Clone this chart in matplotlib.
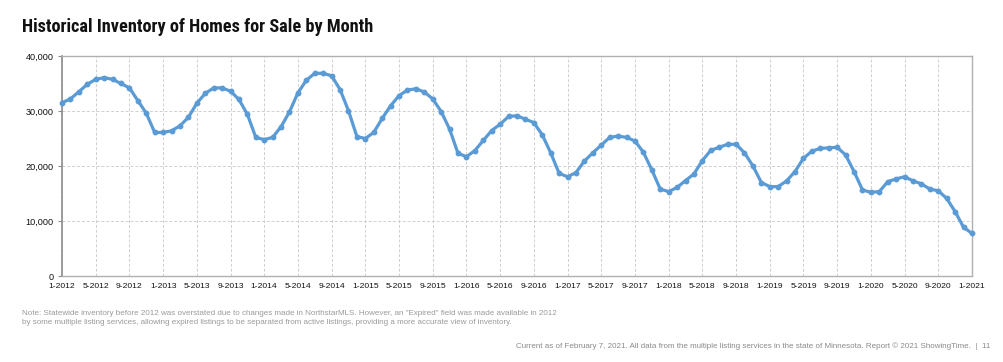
import matplotlib
matplotlib.use("Agg")
import matplotlib.pyplot as plt
from matplotlib import font_manager
import numpy as np

title = "Historical Inventory of Homes for Sale by Month"

# Monthly inventory, Jan 2012 .. Jan 2021
inventory = [
    31500, 32200, 33500, 34850, 35760, 36060, 35760, 35000, 34200, 31900, 29600, 26100,  # 2012
    26100, 26400, 27300, 28850, 31400, 33200, 34200, 34200, 33600, 32100, 29400, 25200,  # 2013
    24800, 25200, 27150, 29850, 33300, 35600, 36850, 36850, 36400, 33900, 30050, 25350,  # 2014
    25000, 26100, 28650, 30950, 32800, 33800, 34050, 33450, 32200, 29900, 26700, 22300,  # 2015
    21700, 22800, 24650, 26450, 27600, 29000, 29150, 28500, 27900, 25650, 22400, 18650,  # 2016
    18050, 18800, 20900, 22400, 23800, 25200, 25450, 25200, 24550, 22500, 19300, 15800,  # 2017
    15350, 16100, 17350, 18550, 21000, 22850, 23400, 23950, 23950, 22400, 20000, 17000,  # 2018
    16250, 16250, 17300, 19000, 21400, 22700, 23200, 23300, 23400, 22000, 19000, 15650,  # 2019
    15200, 15350, 17150, 17650, 18050, 17300, 16750, 15800, 15500, 14100, 11700, 8850,   # 2020
    7750,                                                                                 # 2021
]
month_labels = [f"{m}-{y}" for y in range(2012, 2022) for m in range(1, 13)][:len(inventory)]
tick_every = 4
y_ticks = [0, 10000, 20000, 30000, 40000]

note = ("Note: Statewide inventory before 2012 was overstated due to changes made in NorthstarMLS. "
        "However, an \"Expired\" field was made available in 2012\n"
        "by some multiple listing services, allowing expired listings to be separated from active "
        "listings, providing a more accurate view of inventory.")
footer = ("Current as of February 7, 2021. All data from the multiple listing services in the state of "
          "Minnesota. Report \u00a9 2021 ShowingTime.  |  11")

installed = {f.name for f in font_manager.fontManager.ttflist}
cands = ["Liberation Sans Narrow", "Roboto Condensed", "Archivo Narrow", "PT Sans Narrow",
         "Arimo", "Liberation Sans"]
title_family = [c for c in cands if c in installed][:1] + ["DejaVu Sans"]
body = ["Liberation Sans", "DejaVu Sans"]
plt.rcParams["font.family"] = body

fig = plt.figure(figsize=(10.04, 3.62), dpi=100)
ax = fig.add_axes([62 / 1004, 1 - 276 / 362, 910 / 1004, 220 / 362])

x = np.arange(len(inventory))
ax.plot(x, inventory, color="#5b9bd5", lw=2.3, marker="o", ms=3.2,
        markerfacecolor="#5b9bd5", markeredgecolor="#5b9bd5", zorder=3, clip_on=False)

ax.set_xlim(0, len(inventory) - 1)
ax.set_ylim(0, 40000)
ax.set_yticks(y_ticks)
ax.set_yticklabels([f"{v:,}" for v in y_ticks])
xt = x[::tick_every]
ax.set_xticks(xt)
ax.set_xticklabels([month_labels[i] for i in xt])

ax.grid(True, color="#cfcfcf", ls=(0, (3, 2)), lw=0.7)
ax.set_axisbelow(True)
for s in ["top", "right", "bottom"]:
    ax.spines[s].set_color("#b0b0b0")
    ax.spines[s].set_linewidth(1.0)
ax.spines["left"].set_color("#8c8c8c")
ax.spines["left"].set_linewidth(1.2)
ax.tick_params(axis="y", length=3, color="#8c8c8c", labelsize=6.6, pad=3, labelcolor="#111111")
ax.tick_params(axis="x", length=0, labelsize=6.1, pad=5, labelcolor="#111111")

t = fig.text(22 / 1004, 1 - 27 / 362, title, fontsize=13.5, fontweight="bold",
             family=title_family, va="center", ha="left", color="#111111")
# fit title to the reference width (~353 px)
fig.canvas.draw()
w = t.get_window_extent().width
t.set_fontsize(13.5 * 353 / w)

fig.text(22 / 1004, 1 - 318 / 362, note, fontsize=5.8, color="#9a9a9a", va="center", ha="left",
         linespacing=1.5)
fig.text(990 / 1004, 1 - 346 / 362, footer, fontsize=5.8, color="#8a8a8a", va="center", ha="right")

fig.savefig("out.png", dpi=100, facecolor="white")
